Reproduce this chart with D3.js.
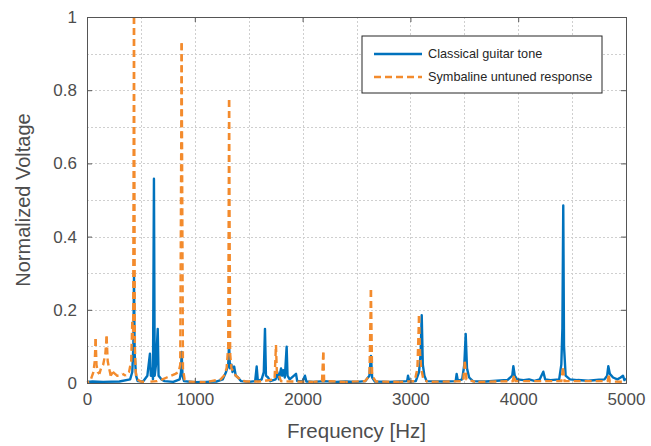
<!DOCTYPE html>
<html>
<head>
<meta charset="utf-8">
<script src="https://cdn.jsdelivr.net/npm/d3@7"></script>
<style>
  body { margin: 0; background: #fff; }
  text { font-family: "Liberation Sans", Arial, sans-serif; }
</style>
</head>
<body>
<div id="chart"></div>
<script>
// spectrum readings: [frequency Hz, normalized voltage]
const guitarTone = [
  [0, 0.003], [50, 0.004], [150, 0.003], [300, 0.004], [400, 0.01], [420, 0.03], [430, 0.1],
  [436, 0.295], [442, 0.08], [455, 0.02], [470, 0.005], [520, 0.004], [560, 0.02], [584, 0.08],
  [592, 0.02], [605, 0.04], [612, 0.01], [621, 0.558], [628, 0.02], [640, 0.05], [656, 0.148],
  [664, 0.02], [690, 0.01], [720, 0.005], [800, 0.003], [860, 0.01], [872, 0.03], [878, 0.085],
  [886, 0.02], [900, 0.005], [1000, 0.002], [1100, 0.003], [1200, 0.004], [1260, 0.01],
  [1290, 0.03], [1310, 0.05], [1318, 0.108], [1326, 0.04], [1340, 0.05], [1350, 0.03],
  [1365, 0.045], [1380, 0.02], [1400, 0.015], [1430, 0.005], [1500, 0.003], [1560, 0.005],
  [1574, 0.045], [1585, 0.005], [1620, 0.01], [1640, 0.03], [1651, 0.148], [1660, 0.02],
  [1680, 0.015], [1700, 0.005], [1750, 0.01], [1765, 0.03], [1780, 0.01], [1800, 0.04],
  [1810, 0.02], [1820, 0.035], [1835, 0.015], [1852, 0.099], [1860, 0.02], [1880, 0.01],
  [1939, 0.025], [1950, 0.005], [2000, 0.005], [2022, 0.02], [2035, 0.004], [2100, 0.003],
  [2200, 0.005], [2300, 0.003], [2400, 0.004], [2500, 0.003], [2580, 0.005], [2620, 0.02],
  [2634, 0.074], [2645, 0.015], [2670, 0.004], [2800, 0.003], [2900, 0.004], [2970, 0.005],
  [2978, 0.02], [2990, 0.004], [3050, 0.005], [3080, 0.03], [3095, 0.08], [3105, 0.185],
  [3115, 0.05], [3130, 0.02], [3150, 0.005], [3300, 0.004], [3420, 0.005], [3429, 0.025],
  [3440, 0.006], [3480, 0.01], [3500, 0.05], [3513, 0.134], [3525, 0.04], [3545, 0.015],
  [3580, 0.005], [3700, 0.004], [3800, 0.006], [3900, 0.008], [3945, 0.02], [3955, 0.046],
  [3968, 0.02], [3990, 0.01], [4050, 0.008], [4100, 0.01], [4150, 0.006], [4200, 0.01],
  [4233, 0.031], [4250, 0.01], [4300, 0.008], [4380, 0.01], [4400, 0.05], [4410, 0.15],
  [4418, 0.485], [4425, 0.1], [4440, 0.02], [4480, 0.01], [4550, 0.008], [4650, 0.006],
  [4750, 0.009], [4800, 0.01], [4825, 0.02], [4836, 0.046], [4850, 0.025], [4880, 0.015],
  [4920, 0.01], [4950, 0.015], [4972, 0.02], [4985, 0.008], [5000, 0.012]
];

const symbalineResponse = [
  [0, 0.002], [30, 0.005], [60, 0.03], [72, 0.06], [80, 0.12], [88, 0.05], [100, 0.03],
  [115, 0.025], [130, 0.04], [150, 0.05], [170, 0.08], [182, 0.127], [192, 0.06], [205, 0.04],
  [220, 0.02], [240, 0.03], [260, 0.025], [280, 0.02], [300, 0.02], [330, 0.025], [360, 0.02],
  [390, 0.03], [410, 0.06], [420, 0.167], [428, 0.12], [436, 1.0], [444, 0.1], [452, 0.03],
  [465, 0.01], [500, 0.004], [560, 0.003], [650, 0.005], [700, 0.01], [740, 0.015], [780, 0.02],
  [820, 0.025], [850, 0.03], [865, 0.05], [878, 0.928], [890, 0.04], [905, 0.01], [930, 0.004],
  [1100, 0.002], [1240, 0.01], [1270, 0.02], [1295, 0.04], [1310, 0.1], [1318, 0.773],
  [1328, 0.08], [1340, 0.04], [1380, 0.02], [1420, 0.01], [1470, 0.004], [1600, 0.004],
  [1740, 0.01], [1753, 0.104], [1762, 0.02], [1780, 0.02], [1800, 0.005], [1900, 0.004],
  [2100, 0.003], [2180, 0.005], [2192, 0.083], [2200, 0.005], [2400, 0.003], [2580, 0.005],
  [2620, 0.02], [2634, 0.254], [2645, 0.02], [2680, 0.004], [2900, 0.003], [3040, 0.005],
  [3065, 0.04], [3080, 0.183], [3090, 0.08], [3100, 0.04], [3120, 0.01], [3160, 0.003],
  [3490, 0.005], [3505, 0.058], [3520, 0.01], [3600, 0.003], [3950, 0.005], [3960, 0.02],
  [3975, 0.005], [4400, 0.005], [4415, 0.04], [4430, 0.005], [4830, 0.005], [4840, 0.02],
  [4850, 0.004], [5000, 0.003]
];

const seriesNames = ["Classical guitar tone", "Symbaline untuned response"];
const xTicks = [0, 1000, 2000, 3000, 4000, 5000];
const yTicks = [0, 0.2, 0.4, 0.6, 0.8, 1];

const width = 651, height = 446;
const margin = {top: 17, right: 25, bottom: 63, left: 87};
const textColor = "#4d4d4d";
const blue = "#0072bd", orange = "#f38b2d";

const svg = d3.select("#chart").append("svg")
    .attr("width", width)
    .attr("height", height);

const x = d3.scaleLinear().domain([0, 5000]).range([margin.left, width - margin.right]);
const y = d3.scaleLinear().domain([0, 1]).range([height - margin.bottom, margin.top]);

// dotted grid (major + minor)
const grid = svg.append("g")
    .attr("stroke", "#cfcfcf")
    .attr("stroke-width", 1)
    .attr("stroke-dasharray", "2,2");

grid.selectAll(".gx").data(d3.range(500, 5000, 500)).join("line")
    .attr("x1", d => Math.round(x(d)) + 0.5).attr("x2", d => Math.round(x(d)) + 0.5)
    .attr("y1", y(1)).attr("y2", y(0));

grid.selectAll(".gy").data(d3.range(1, 10).map(i => i / 10)).join("line")
    .attr("x1", x(0)).attr("x2", x(5000))
    .attr("y1", d => Math.round(y(d)) + 0.5).attr("y2", d => Math.round(y(d)) + 0.5);

// data lines
const line = d3.line()
    .x(d => x(d[0]))
    .y(d => y(d[1]));

const plot = svg.append("g");

plot.append("path")
    .datum(guitarTone)
    .attr("fill", "none")
    .attr("stroke", blue)
    .attr("stroke-width", 2.4)
    .attr("stroke-linejoin", "round")
    .attr("d", line);

// split the dashed curve into monotone runs, each drawn from its high end,
// so both flanks of a spike share the same dash phase (reads as one dashed line)
function monotoneRuns(data) {
  const runs = [];
  let start = 0;
  for (let i = 1; i < data.length - 1; i++) {
    const a = data[i][1] - data[i - 1][1], b = data[i + 1][1] - data[i][1];
    if (a * b < 0) { runs.push(data.slice(start, i + 1)); start = i; }
  }
  runs.push(data.slice(start));
  return runs.map(r => r[0][1] >= r[r.length - 1][1] ? r : r.slice().reverse());
}

plot.selectAll(".sym").data(monotoneRuns(symbalineResponse)).join("path")
    .attr("fill", "none")
    .attr("stroke", orange)
    .attr("stroke-width", 2.4)
    .attr("stroke-dasharray", "7,4")
    .attr("d", line);

// axes box with inward ticks
const xAxisB = d3.axisBottom(x).tickValues(xTicks).tickSize(-5).tickPadding(10).tickFormat(d3.format("d"));
const xAxisT = d3.axisTop(x).tickValues(xTicks).tickSize(-5).tickFormat("");
const yAxisL = d3.axisLeft(y).tickValues(yTicks).tickSize(-5).tickPadding(10).tickFormat(d => d3.format("")(d));
const yAxisR = d3.axisRight(y).tickValues(yTicks).tickSize(-5).tickFormat("");

function styleAxis(g) {
  g.select(".domain").attr("stroke", "#555").attr("stroke-width", 1);
  g.selectAll(".tick line").attr("stroke", "#555");
  g.selectAll(".tick text")
      .attr("fill", textColor)
      .style("font-size", "17px")
      .style("font-family", '"Liberation Sans", Arial, sans-serif');
}

svg.append("g").attr("transform", `translate(0,${y(0)})`).call(xAxisB).call(styleAxis);
svg.append("g").attr("transform", `translate(0,${y(1)})`).call(xAxisT).call(styleAxis);
svg.append("g").attr("transform", `translate(${x(0)},0)`).call(yAxisL).call(styleAxis);
svg.append("g").attr("transform", `translate(${x(5000)},0)`).call(yAxisR).call(styleAxis);

// axis labels
svg.append("text")
    .attr("x", (x(0) + x(5000)) / 2)
    .attr("y", 438)
    .attr("text-anchor", "middle")
    .attr("fill", textColor)
    .style("font-size", "20.5px")
    .text("Frequency [Hz]");

svg.append("text")
    .attr("transform", `translate(30,${(y(0) + y(1)) / 2}) rotate(-90)`)
    .attr("text-anchor", "middle")
    .attr("fill", textColor)
    .style("font-size", "20px")
    .text("Normalized Voltage");

// legend
const legend = svg.append("g").attr("transform", "translate(362,36)");
legend.append("rect")
    .attr("width", 240).attr("height", 57)
    .attr("fill", "#fff")
    .attr("stroke", "#262626")
    .attr("stroke-width", 1);

const legendItems = legend.selectAll(".item").data(seriesNames).join("g")
    .attr("transform", (d, i) => `translate(0,${18 + i * 23})`);

legendItems.append("line")
    .attr("x1", 12).attr("x2", 60)
    .attr("stroke", (d, i) => i === 0 ? blue : orange)
    .attr("stroke-width", 2.4)
    .attr("stroke-dasharray", (d, i) => i === 0 ? null : "7,4");

legendItems.append("text")
    .attr("x", 66)
    .attr("dy", "0.35em")
    .attr("fill", "#262626")
    .style("font-size", "12.7px")
    .text(d => d);
</script>
</body>
</html>
